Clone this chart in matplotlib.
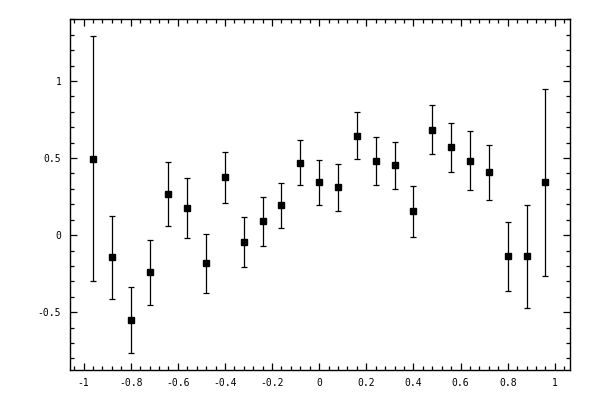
import numpy as np
import matplotlib
matplotlib.use('Agg')
import matplotlib.pyplot as plt
from matplotlib.ticker import MultipleLocator

# Data
x_vals = [-0.96, -0.88, -0.80, -0.72, -0.64, -0.56, -0.48, -0.40, -0.32, -0.24,
          -0.16, -0.08, 0.00, 0.08, 0.16, 0.24, 0.32, 0.40, 0.48, 0.56,
          0.64, 0.72, 0.80, 0.88, 0.96]
y_vals = [0.497, -0.145, -0.553, -0.242, 0.266, 0.175, -0.184, 0.374, -0.047, 0.089,
          0.193, 0.471, 0.342, 0.309, 0.646, 0.478, 0.452, 0.154, 0.685, 0.569,
          0.484, 0.407, -0.138, -0.138, 0.342]
y_err = [0.795, 0.27, 0.214, 0.21, 0.21, 0.196, 0.19, 0.168, 0.162, 0.158,
         0.145, 0.145, 0.146, 0.152, 0.15, 0.156, 0.155, 0.165, 0.158, 0.161,
         0.19, 0.18, 0.226, 0.333, 0.605]

plt.rcParams['font.family'] = 'DejaVu Sans Mono'
plt.rcParams['axes.unicode_minus'] = False

fig = plt.figure(figsize=(6, 4), dpi=100)
ax = fig.add_axes([0.116, 0.075, 0.834, 0.8775])

ax.errorbar(x_vals, y_vals, yerr=y_err, fmt='s', color='black', markersize=5,
            elinewidth=0.9, capsize=2.5, capthick=0.9)

ax.set_xlim(-1.059, 1.064)
ax.set_ylim(-0.875, 1.402)

ax.xaxis.set_major_locator(MultipleLocator(0.2))
ax.xaxis.set_minor_locator(MultipleLocator(0.04))
ax.yaxis.set_major_locator(MultipleLocator(0.5))
ax.yaxis.set_minor_locator(MultipleLocator(0.1))
ax.set_xticks([-1, -0.8, -0.6, -0.4, -0.2, 0, 0.2, 0.4, 0.6, 0.8, 1])
ax.set_xticklabels(['-1', '-0.8', '-0.6', '-0.4', '-0.2', '0', '0.2', '0.4', '0.6', '0.8', '1'])
ax.set_yticks([-0.5, 0, 0.5, 1])
ax.set_yticklabels(['-0.5', '0', '0.5', '1'])

ax.tick_params(which='both', direction='in', top=True, right=True, labelsize=7, width=0.9)
ax.tick_params(which='major', length=5, pad=6)
ax.tick_params(which='minor', length=3)
for s in ax.spines.values():
    s.set_linewidth(1.0)

fig.savefig('out.png', dpi=100)
